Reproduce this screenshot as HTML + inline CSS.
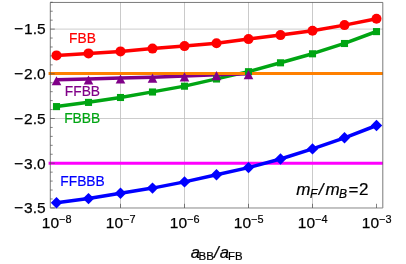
<!DOCTYPE html>
<html><head><meta charset="utf-8"><title>plot</title><style>html,body{margin:0;padding:0;background:#fff}</style></head><body>
<svg width="406" height="264" viewBox="0 0 406 264" style="display:block;font-family:'Liberation Sans',sans-serif">
<rect width="406" height="264" fill="#fff"/>
<line x1="120.5" y1="2.45" x2="120.5" y2="208.0" stroke="#bdbdbd" stroke-width="0.8"/>
<line x1="184.5" y1="2.45" x2="184.5" y2="208.0" stroke="#bdbdbd" stroke-width="0.8"/>
<line x1="248.5" y1="2.45" x2="248.5" y2="208.0" stroke="#bdbdbd" stroke-width="0.8"/>
<line x1="312.5" y1="2.45" x2="312.5" y2="208.0" stroke="#bdbdbd" stroke-width="0.8"/>
<line x1="50.3" y1="29.10" x2="382.8" y2="29.10" stroke="#c0c0c0" stroke-width="0.8"/>
<line x1="50.3" y1="73.80" x2="382.8" y2="73.80" stroke="#c0c0c0" stroke-width="0.8"/>
<line x1="50.3" y1="118.50" x2="382.8" y2="118.50" stroke="#c0c0c0" stroke-width="0.8"/>
<line x1="50.3" y1="163.20" x2="382.8" y2="163.20" stroke="#c0c0c0" stroke-width="0.8"/>
<line x1="50.3" y1="207.90" x2="382.8" y2="207.90" stroke="#c0c0c0" stroke-width="0.8"/>
<polyline points="56.5,55.4 88.5,53.4 120.5,51.4 152.5,48.6 184.5,46.1 216.5,43.2 248.5,39.1 280.5,35.1 312.5,30.7 344.5,25.1 376.5,18.7" fill="none" stroke="#ff0000" stroke-width="3.5" stroke-linejoin="round"/>
<polyline points="56.5,106.5 88.5,102.3 120.5,97.4 152.5,91.9 184.5,86.1 216.5,78.9 248.5,71.6 280.5,62.7 312.5,53.7 344.5,43.4 376.5,31.5" fill="none" stroke="#00a513" stroke-width="3.5" stroke-linejoin="round"/>
<polyline points="56.5,79.8 88.5,79.1 120.5,78.1 152.5,77.2 184.5,75.9 216.5,74.7 248.5,73.7" fill="none" stroke="#800088" stroke-width="3.5" stroke-linejoin="round"/>
<line x1="48.6" y1="73.5" x2="382.8" y2="73.5" stroke="#ff8000" stroke-width="3.0"/>
<line x1="48.6" y1="163.35" x2="382.8" y2="163.35" stroke="#ff00ff" stroke-width="3.0"/>
<polyline points="56.5,202.8 88.5,198.6 120.5,193.2 152.5,188.1 184.5,181.9 216.5,174.8 248.5,167.6 280.5,159.0 312.5,148.9 344.5,137.8 376.5,125.5" fill="none" stroke="#0000ff" stroke-width="3.5" stroke-linejoin="round"/>
<path d="M50.3 208.0V2.45H382.8V208.0" fill="none" stroke="#4d4d4d" stroke-width="0.75"/>
<line x1="50.3" y1="208.0" x2="382.8" y2="208.0" stroke="#a0a0a0" stroke-width="1"/>
<path d="M50.3 207.90h4.5 M50.3 198.96h2.4 M50.3 190.02h2.4 M50.3 181.08h2.4 M50.3 172.14h2.4 M50.3 163.20h4.5 M50.3 154.26h2.4 M50.3 145.32h2.4 M50.3 136.38h2.4 M50.3 127.44h2.4 M50.3 118.50h4.5 M50.3 109.56h2.4 M50.3 100.62h2.4 M50.3 91.68h2.4 M50.3 82.74h2.4 M50.3 73.80h4.5 M50.3 64.86h2.4 M50.3 55.92h2.4 M50.3 46.98h2.4 M50.3 38.04h2.4 M50.3 29.10h4.5 M50.3 20.16h2.4 M50.3 11.22h2.4 M50.3 2.28h2.4 M56.5 208.0v-4.2 M120.5 208.0v-4.2 M184.5 208.0v-4.2 M248.5 208.0v-4.2 M312.5 208.0v-4.2 M376.5 208.0v-4.2" stroke="#4d4d4d" stroke-width="0.7" fill="none"/>
<circle cx="56.5" cy="55.4" r="5.0" fill="#ff0000"/>
<circle cx="88.5" cy="53.4" r="5.0" fill="#ff0000"/>
<circle cx="120.5" cy="51.4" r="5.0" fill="#ff0000"/>
<circle cx="152.5" cy="48.6" r="5.0" fill="#ff0000"/>
<circle cx="184.5" cy="46.1" r="5.0" fill="#ff0000"/>
<circle cx="216.5" cy="43.199999999999996" r="5.0" fill="#ff0000"/>
<circle cx="248.5" cy="39.1" r="5.0" fill="#ff0000"/>
<circle cx="280.5" cy="35.1" r="5.0" fill="#ff0000"/>
<circle cx="312.5" cy="30.7" r="5.0" fill="#ff0000"/>
<circle cx="344.5" cy="25.099999999999998" r="5.0" fill="#ff0000"/>
<circle cx="376.5" cy="18.7" r="5.0" fill="#ff0000"/>
<rect x="52.95" y="103.05" width="7.1" height="7.1" fill="#00a513"/>
<rect x="84.95" y="98.85" width="7.1" height="7.1" fill="#00a513"/>
<rect x="116.95" y="93.95" width="7.1" height="7.1" fill="#00a513"/>
<rect x="148.95" y="88.45" width="7.1" height="7.1" fill="#00a513"/>
<rect x="180.95" y="82.65" width="7.1" height="7.1" fill="#00a513"/>
<rect x="212.95" y="75.45" width="7.1" height="7.1" fill="#00a513"/>
<rect x="244.95" y="68.15" width="7.1" height="7.1" fill="#00a513"/>
<rect x="276.95" y="59.25" width="7.1" height="7.1" fill="#00a513"/>
<rect x="308.95" y="50.25" width="7.1" height="7.1" fill="#00a513"/>
<rect x="340.95" y="39.95" width="7.1" height="7.1" fill="#00a513"/>
<rect x="372.95" y="28.05" width="7.1" height="7.1" fill="#00a513"/>
<path d="M56.5 76.2l4.8 9.1h-9.6z" fill="#800088"/>
<path d="M88.5 75.5l4.8 9.1h-9.6z" fill="#800088"/>
<path d="M120.5 74.5l4.8 9.1h-9.6z" fill="#800088"/>
<path d="M152.5 73.60000000000001l4.8 9.1h-9.6z" fill="#800088"/>
<path d="M184.5 72.30000000000001l4.8 9.1h-9.6z" fill="#800088"/>
<path d="M216.5 71.10000000000001l4.8 9.1h-9.6z" fill="#800088"/>
<path d="M248.5 70.10000000000001l4.8 9.1h-9.6z" fill="#800088"/>
<path d="M56.5 197.10000000000002l5.7 5.7l-5.7 5.7l-5.7 -5.7z" fill="#0000ff"/>
<path d="M88.5 192.9l5.7 5.7l-5.7 5.7l-5.7 -5.7z" fill="#0000ff"/>
<path d="M120.5 187.50000000000003l5.7 5.7l-5.7 5.7l-5.7 -5.7z" fill="#0000ff"/>
<path d="M152.5 182.4l5.7 5.7l-5.7 5.7l-5.7 -5.7z" fill="#0000ff"/>
<path d="M184.5 176.20000000000002l5.7 5.7l-5.7 5.7l-5.7 -5.7z" fill="#0000ff"/>
<path d="M216.5 169.10000000000002l5.7 5.7l-5.7 5.7l-5.7 -5.7z" fill="#0000ff"/>
<path d="M248.5 161.9l5.7 5.7l-5.7 5.7l-5.7 -5.7z" fill="#0000ff"/>
<path d="M280.5 153.3l5.7 5.7l-5.7 5.7l-5.7 -5.7z" fill="#0000ff"/>
<path d="M312.5 143.20000000000002l5.7 5.7l-5.7 5.7l-5.7 -5.7z" fill="#0000ff"/>
<path d="M344.5 132.10000000000002l5.7 5.7l-5.7 5.7l-5.7 -5.7z" fill="#0000ff"/>
<path d="M376.5 119.8l5.7 5.7l-5.7 5.7l-5.7 -5.7z" fill="#0000ff"/>
<text x="69" y="42.9" font-size="13.8" stroke-width="0.15" stroke="#ff0000" fill="#ff0000">FBB</text>
<text x="64.8" y="96.25" font-size="13.8" stroke-width="0.15" stroke="#800088" fill="#800088">FFBB</text>
<text x="64.2" y="123.1" font-size="13.8" stroke-width="0.15" stroke="#00a513" fill="#00a513">FBBB</text>
<text x="60.3" y="186.1" font-size="13.8" stroke-width="0.15" stroke="#0000ff" fill="#0000ff">FFBBB</text>
<text x="45.6" y="34.4" font-size="15.5" text-anchor="end" fill="#000" stroke="#000" stroke-width="0.25">1.5</text>
<text x="14.1" y="34.4" font-size="15.5" fill="#000" stroke="#000" stroke-width="0.25">−</text>
<text x="45.6" y="79.1" font-size="15.5" text-anchor="end" fill="#000" stroke="#000" stroke-width="0.25">2.0</text>
<text x="14.1" y="79.1" font-size="15.5" fill="#000" stroke="#000" stroke-width="0.25">−</text>
<text x="45.6" y="123.8" font-size="15.5" text-anchor="end" fill="#000" stroke="#000" stroke-width="0.25">2.5</text>
<text x="14.1" y="123.8" font-size="15.5" fill="#000" stroke="#000" stroke-width="0.25">−</text>
<text x="45.6" y="168.5" font-size="15.5" text-anchor="end" fill="#000" stroke="#000" stroke-width="0.25">3.0</text>
<text x="14.1" y="168.5" font-size="15.5" fill="#000" stroke="#000" stroke-width="0.25">−</text>
<text x="45.6" y="213.2" font-size="15.5" text-anchor="end" fill="#000" stroke="#000" stroke-width="0.25">3.5</text>
<text x="14.1" y="213.2" font-size="15.5" fill="#000" stroke="#000" stroke-width="0.25">−</text>
<text x="41.8" y="227.5" font-size="15.5" fill="#000" stroke="#000" stroke-width="0.25">10</text>
<text x="59.1" y="222.6" font-size="10.9" fill="#000" stroke="#000" stroke-width="0.2">−8</text>
<text x="105.8" y="227.5" font-size="15.5" fill="#000" stroke="#000" stroke-width="0.25">10</text>
<text x="123.1" y="222.6" font-size="10.9" fill="#000" stroke="#000" stroke-width="0.2">−7</text>
<text x="169.8" y="227.5" font-size="15.5" fill="#000" stroke="#000" stroke-width="0.25">10</text>
<text x="187.1" y="222.6" font-size="10.9" fill="#000" stroke="#000" stroke-width="0.2">−6</text>
<text x="233.8" y="227.5" font-size="15.5" fill="#000" stroke="#000" stroke-width="0.25">10</text>
<text x="251.1" y="222.6" font-size="10.9" fill="#000" stroke="#000" stroke-width="0.2">−5</text>
<text x="297.8" y="227.5" font-size="15.5" fill="#000" stroke="#000" stroke-width="0.25">10</text>
<text x="315.1" y="222.6" font-size="10.9" fill="#000" stroke="#000" stroke-width="0.2">−4</text>
<text x="361.8" y="227.5" font-size="15.5" fill="#000" stroke="#000" stroke-width="0.25">10</text>
<text x="379.1" y="222.6" font-size="10.9" fill="#000" stroke="#000" stroke-width="0.2">−3</text>
<text x="296.3" y="195.2" font-size="17" font-style="italic" fill="#000" stroke="#000" stroke-width="0.2">m</text>
<text x="310.0" y="197.6" font-size="12" font-style="italic" fill="#000" stroke="#000" stroke-width="0.2">F</text>
<text x="318.8" y="195.2" font-size="17" font-style="italic" fill="#000" stroke="#000" stroke-width="0.2">/</text>
<text x="325.4" y="195.2" font-size="17" font-style="italic" fill="#000" stroke="#000" stroke-width="0.2">m</text>
<text x="339.0" y="197.6" font-size="12" font-style="italic" fill="#000" stroke="#000" stroke-width="0.2">B</text>
<text x="348.6" y="195.2" font-size="17" fill="#000" stroke="#000" stroke-width="0.2">=</text>
<text x="359.0" y="195.2" font-size="17" fill="#000" stroke="#000" stroke-width="0.2">2</text>
<text x="190.8" y="257.6" font-size="16.5" font-style="italic" fill="#000" stroke="#000" stroke-width="0.2">a</text>
<text x="198.6" y="260.0" font-size="11.5" fill="#000" stroke="#000" stroke-width="0.2">BB</text>
<text x="214.0" y="257.6" font-size="17" font-style="italic" fill="#000" stroke="#000" stroke-width="0.2">/</text>
<text x="219.8" y="257.6" font-size="16.5" font-style="italic" fill="#000" stroke="#000" stroke-width="0.2">a</text>
<text x="228.0" y="260.0" font-size="11.4" fill="#000" stroke="#000" stroke-width="0.2">FB</text>
</svg>
</body></html>
